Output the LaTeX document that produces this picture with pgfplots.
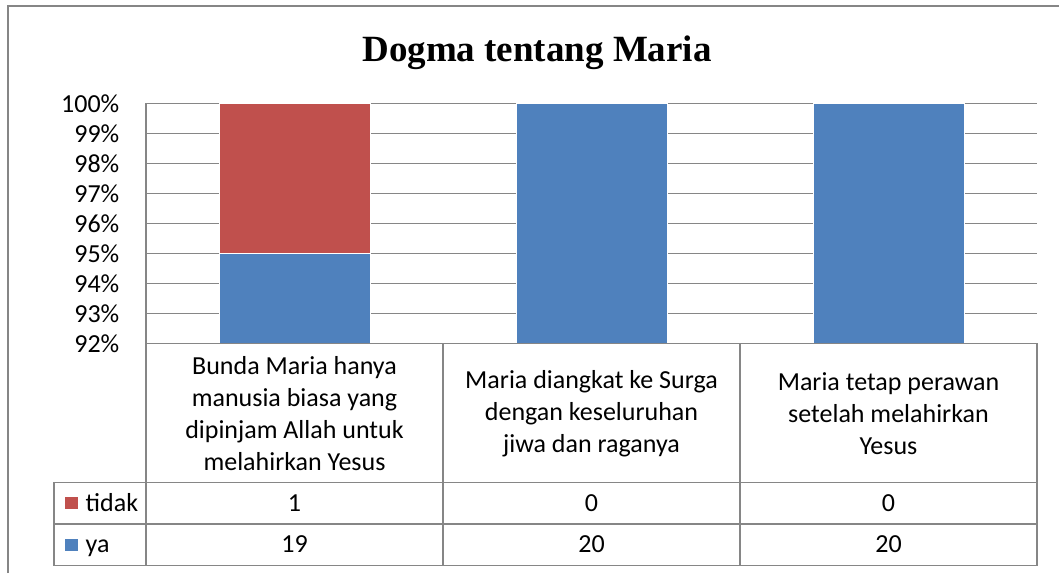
\documentclass[border=0pt]{standalone}
\usepackage{fontspec}
\usepackage{pgfplots}
\pgfplotsset{compat=1.18}
\setmainfont{Carlito}
\newfontfamily\titlefont{Liberation Serif}
\definecolor{xblue}{HTML}{4F81BD}
\definecolor{xred}{HTML}{C0504D}
\definecolor{xgrid}{HTML}{868686}
\newcommand{\cf}{\fontsize{26}{32}\selectfont}
\begin{document}
\begin{tikzpicture}[x=1pt,y=1pt]
\useasboundingbox (0,0) rectangle (1059,-573);
% outer chart border (left and top visible)
\draw[xgrid, line width=1.5pt] (8,-573) -- (8,-6) -- (1059,-6);
% title
\node[anchor=base, inner sep=0pt] at (537,-61) {\titlefont\bfseries\fontsize{37}{40}\selectfont Dogma tentang Maria};
\begin{axis}[
  at={(146pt,-343.3pt)}, anchor=south west,
  scale only axis, width=891pt, height=240pt,
  xmin=0, xmax=3, ymin=92, ymax=100,
  ybar stacked, bar width=151pt,
  xtick=\empty,
  ytick={92,93,94,95,96,97,98,99,100},
  yticklabels={92\%,93\%,94\%,95\%,96\%,97\%,98\%,99\%,100\%},
  yticklabel style={font=\cf, anchor=east, inner sep=0pt, xshift=-26.5pt},
  major tick length=0pt,
  axis line style={draw=none},
  ymajorgrids, grid style={xgrid, line width=1.5pt},
]
\addplot[fill=xblue, draw=white, line width=1pt] coordinates {(0.5,95) (1.5,100) (2.5,100)};
\addplot[fill=xred, draw=white, line width=1pt] coordinates {(0.5,5) (1.5,0) (2.5,0)};
\end{axis}
% data table
\begin{scope}[xgrid, line width=1.5pt]
\draw (146,-103.3) -- (146,-565.5);
\draw (146,-343.3) -- (1037,-343.3);
\draw (54,-482.3) -- (1037,-482.3);
\draw (54,-524) -- (1037,-524);
\draw (54,-565.5) -- (1037,-565.5);
\draw (54,-482.3) -- (54,-565.5);
\draw (443,-343.3) -- (443,-565.5);
\draw (740,-343.3) -- (740,-565.5);
\draw (1037,-343.3) -- (1037,-565.5);
\end{scope}
\node[align=center, inner sep=0pt, font=\cf] at (294.5,-413.5) {Bunda Maria hanya\\manusia biasa yang\\dipinjam Allah untuk\\melahirkan Yesus};
\node[align=center, inner sep=0pt, font=\cf] at (591.5,-413.5) {Maria diangkat ke Surga\\dengan keseluruhan\\jiwa dan raganya};
\node[align=center, inner sep=0pt, font=\cf] at (888.5,-413.5) {Maria tetap perawan\\setelah melahirkan\\Yesus};
\foreach \x/\v in {294.5/1, 591.5/0, 888.5/0} \node[anchor=base, inner sep=0pt, font=\cf] at (\x,-511) {\v};
\foreach \x/\v in {294.5/19, 591.5/20, 888.5/20} \node[anchor=base, inner sep=0pt, font=\cf] at (\x,-552.5) {\v};
\fill[xred] (65,-497) rectangle (77.5,-508.5);
\fill[xblue] (65,-538.5) rectangle (77.5,-550.5);
\node[anchor=base west, inner sep=0pt, font=\cf] at (85.5,-511) {tidak};
\node[anchor=base west, inner sep=0pt, font=\cf] at (85.5,-552.5) {ya};
\end{tikzpicture}
\end{document}
